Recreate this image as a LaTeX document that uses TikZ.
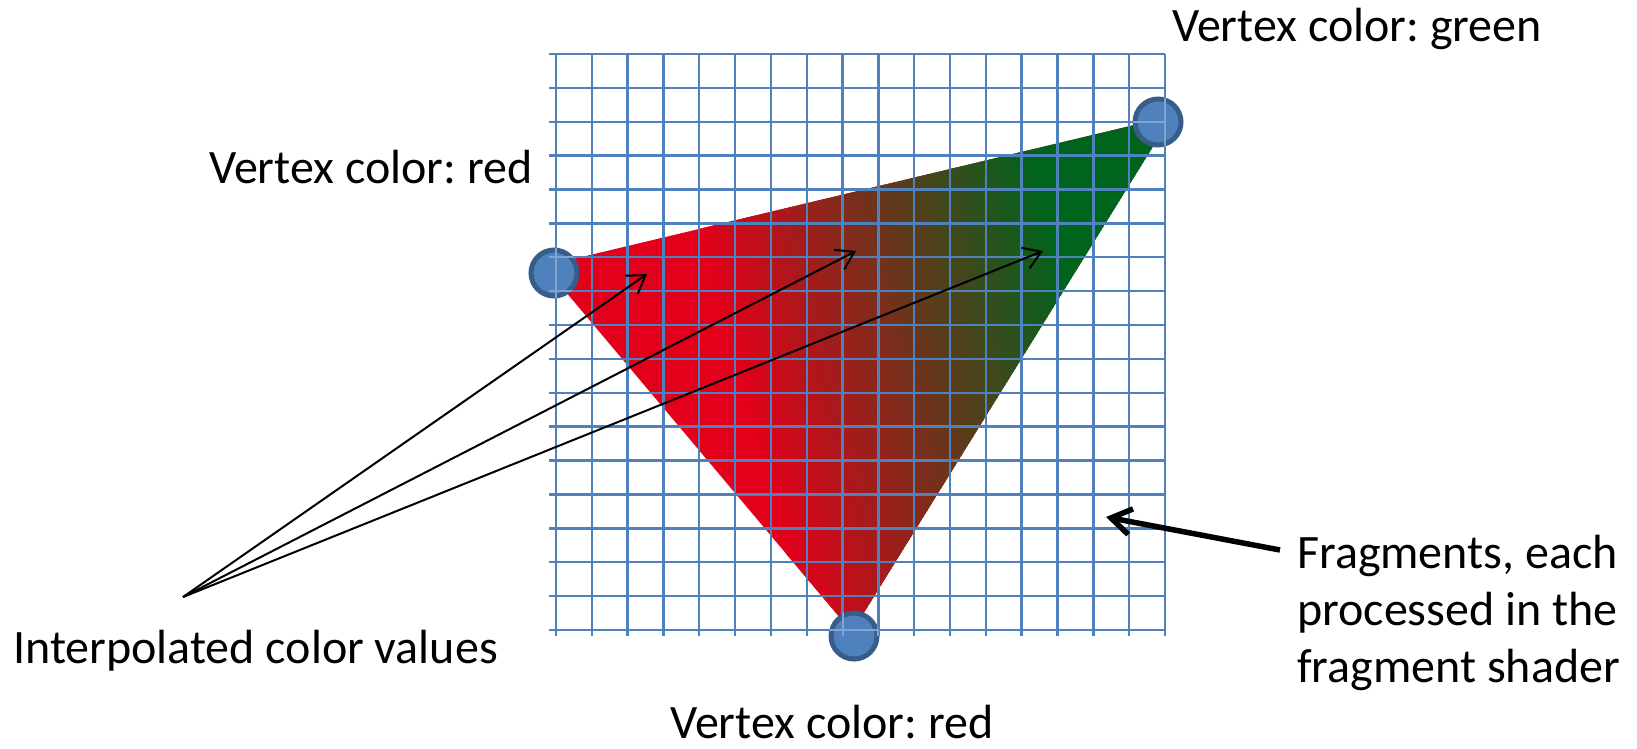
\documentclass[tikz,border=0pt]{standalone}
\usepackage{fontspec}
\setmainfont{Carlito}
\usetikzlibrary{arrows.meta}
\definecolor{gridblue}{RGB}{79,129,189}
\definecolor{gridlight}{RGB}{128,165,210}
\definecolor{vborder}{RGB}{56,93,138}
\definecolor{vred}{RGB}{226,0,26}
\definecolor{vgreen}{RGB}{0,100,28}
\frenchspacing
\begin{document}
\begin{tikzpicture}[x=1pt,y=-1pt,
  gridline/.style={gridblue, line width=2.4pt},
  vertexdot/.style={circle, fill=gridblue, draw=vborder, line width=5pt, minimum size=46pt, inner sep=0pt},
  lbl/.style={font=\fontsize{48}{58}\selectfont, anchor=base west, inner sep=0pt},
  thinarrow/.style={-{Straight Barb[length=17pt,width=22pt]}, line width=2pt},
  thickarrow/.style={-{Straight Barb[length=20pt,width=26pt]}, line width=5.5pt}]
\useasboundingbox (0,0) rectangle (1637,748);
% triangle with interpolated colours
\coordinate (L) at (544,266);
\coordinate (T) at (1172,116);
\coordinate (B) at (852,632);
\begin{scope}
\clip (L) -- (T) -- (B) -- cycle;
\fill[vred] (L) -- (T) -- (B) -- cycle;
\foreach \k in {0,...,69} {
  \pgfmathsetmacro\ca{615+4.9*\k}
  \pgfmathsetmacro\cb{615+4.9*(\k+1)+1}
  \pgfmathsetmacro\pct{100-100*(\k+0.5)/70}
  \fill[vred!\pct!vgreen]
    ({0.965*\ca},{-0.26*\ca}) --
    ({0.965*\cb},{-0.26*\cb}) --
    ({0.965*\cb+0.26*1200},{-0.26*\cb+0.965*1200}) --
    ({0.965*\ca+0.26*1200},{-0.26*\ca+0.965*1200}) -- cycle;
}
\fill[vgreen]
    ({0.965*958},{-0.26*958}) --
    ({0.965*1500},{-0.26*1500}) --
    ({0.965*1500+0.26*1200},{-0.26*1500+0.965*1200}) --
    ({0.965*958+0.26*1200},{-0.26*958+0.965*1200}) -- cycle;
\end{scope}
% grid of fragments
\foreach \i in {0,...,17} {
  \draw[gridline] ({556+35.82*\i},54) -- ({556+35.82*\i},636);
}
\foreach \j in {0,...,17} {
  \draw[gridline] (549,{54+33.88*\j}) -- (1165,{54+33.88*\j});
}
% vertices
\node[vertexdot] (vL) at (554,273) {};
\node[vertexdot] (vT) at (1158,122) {};
\node[vertexdot] (vB) at (854,636) {};
\begin{scope}
\clip (554,273) circle (25.5) (1158,122) circle (25.5) (854,636) circle (25.5);
\foreach \i in {0,...,17} {
  \draw[gridlight, line width=2pt] ({556+35.82*\i},54) -- ({556+35.82*\i},636);
}
\foreach \j in {0,...,17} {
  \draw[gridlight, line width=2pt] (549,{54+33.88*\j}) -- (1165,{54+33.88*\j});
}
\end{scope}
% labels
\node[lbl] (lgreen) at (1172,41) {Vertex color: green};
\node[lbl] (lred) at (209,183) {Vertex color: red};
\node[lbl] (lbot) at (670,738) {Vertex color: red};
\node[lbl] (linterp) at (13,663) {Interpolated color values};
\node[lbl] (frag1) at (1297,568) {Fragments, each};
\node[lbl] (frag2) at (1297,625) {processed in the};
\node[lbl] (frag3) at (1297,682) {fragment shader};
% arrows
\coordinate (src) at (183,597);
\coordinate (p1) at (647,274);
\coordinate (p2) at (856,251);
\coordinate (p3) at (1043,251);
\draw[thinarrow] (src) -- (p1);
\draw[thinarrow] (src) -- (p2);
\draw[thinarrow] (src) -- (p3);
\coordinate (fragtail) at (1280,550);
\coordinate (fraghead) at (1106,517);
\draw[thickarrow] (fragtail) -- (fraghead);
\end{tikzpicture}
\end{document}
